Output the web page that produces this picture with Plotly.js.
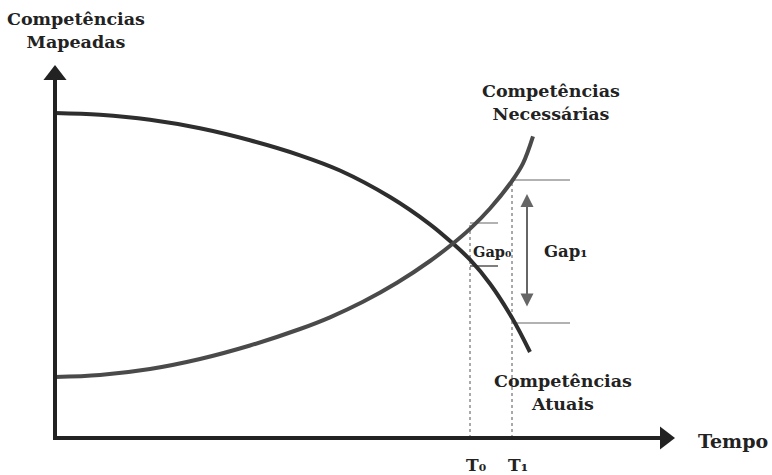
<!DOCTYPE html>
<html>
<head>
<meta charset="utf-8">
<script src="https://cdn.plot.ly/plotly-3.0.1.min.js"></script>
<style>
  html, body { margin: 0; padding: 0; background: #fff; }
  #grafico { width: 772px; height: 475px; }
</style>
</head>
<body>
<div id="grafico"></div>
<script>
// tempo (t) e nível de competência (c)
const atuaisT = [0, 45, 95, 145, 195, 245, 285, 335, 375, 398, 415, 435, 457, 475];
const atuaisC = [325, 323.2, 318.2, 309.7, 297.7, 282.7, 267.5, 241, 213.7, 194.4, 178.3, 154.3, 120.2, 86];

const necessT = [0, 45, 95, 145, 195, 245, 275, 308, 342, 375, 398, 415, 435, 457, 468, 478];
const necessC = [61, 63, 69, 79, 92.5, 109, 120.7, 136.2, 155.2, 177, 194.5, 209.1, 229.5, 257, 274.6, 301.6];

const t0 = 415;
const t1 = 457;
const gap0 = [172, 215];   // atual, necessária em T0
const gap1 = [115, 258];   // atual, necessária em T1
const seta1 = [130, 244];

const fonte = { family: "DejaVu Serif, serif", color: "#222", size: 17.5 };

function linha(x, y, cor, largura, tracejado) {
    return {
        x: x, y: y,
        type: 'scatter',
        mode: 'lines',
        hoverinfo: 'skip',
        line: { color: cor, width: largura, dash: tracejado || 'solid', shape: 'spline', smoothing: 1 }
    };
}

const traces = [
    // guias verticais
    linha([t0, t0], [0, gap0[1]], '#555', 1, 'dot'),
    linha([t1, t1], [0, gap1[1]], '#555', 1, 'dot'),
    // marcas dos gaps
    linha([t0, t0 + 28], [gap0[1], gap0[1]], '#999', 1.5),
    linha([t0, t0 + 28], [gap0[0], gap0[0]], '#555', 1.5),
    linha([t1, t1 + 58], [gap1[1], gap1[1]], '#999', 1.5),
    linha([t1 + 1, t1 + 58], [gap1[0], gap1[0]], '#999', 1.5),
    // curvas
    linha(atuaisT, atuaisC, '#2e2e2e', 4),
    linha(necessT, necessC, '#4a4a4a', 4),
    // eixos
    linha([-2, 605], [0, 0], '#222', 4),
    linha([0, 0], [-2, 358], '#222', 4),
    {
        x: [0, 610], y: [363, 0],
        type: 'scatter', mode: 'markers', hoverinfo: 'skip',
        marker: { symbol: ['triangle-up', 'triangle-right'], size: 20, color: '#222' }
    }
];

const annotations = [
    { x: 21, y: 408, text: "<b>Competências<br>Mapeadas</b>" },
    { x: 496, y: 336, text: "<b>Competências<br>Necessárias</b>" },
    { x: 508, y: 46, text: "<b>Competências<br>Atuais</b>" },
    { x: 678, y: -3, text: "<b>Tempo</b>", font: Object.assign({}, fonte, { size: 19 }) },
    { x: 421, y: -27, text: "<b>T₀</b>", font: Object.assign({}, fonte, { size: 17 }) },
    { x: 463, y: -27, text: "<b>T₁</b>", font: Object.assign({}, fonte, { size: 17 }) },
    { x: 437, y: 187, text: "<b>Gap₀</b>", font: Object.assign({}, fonte, { size: 14.5 }) },
    { x: 511, y: 187, text: "<b>Gap₁</b>", font: Object.assign({}, fonte, { size: 16.5 }) }
].map(a => Object.assign({ xref: 'x', yref: 'y', showarrow: false, font: fonte }, a));

// seta dupla do Gap1
annotations.push({
    x: t1 + 15, y: seta1[1], ax: t1 + 15, ay: seta1[0],
    xref: 'x', yref: 'y', axref: 'x', ayref: 'y',
    text: '', showarrow: true, arrowside: 'end+start',
    arrowhead: 2, arrowsize: 1.3, arrowwidth: 2, arrowcolor: '#666'
});

const layout = {
    width: 772, height: 475,
    margin: { l: 0, r: 0, t: 0, b: 0 },
    paper_bgcolor: '#fff', plot_bgcolor: '#fff',
    showlegend: false,
    xaxis: { range: [-55, 717], visible: false, fixedrange: true },
    yaxis: { range: [-37, 438], visible: false, fixedrange: true },
    annotations: annotations
};

Plotly.newPlot("grafico", traces, layout, { displayModeBar: false, staticPlot: true });
</script>
</body>
</html>
